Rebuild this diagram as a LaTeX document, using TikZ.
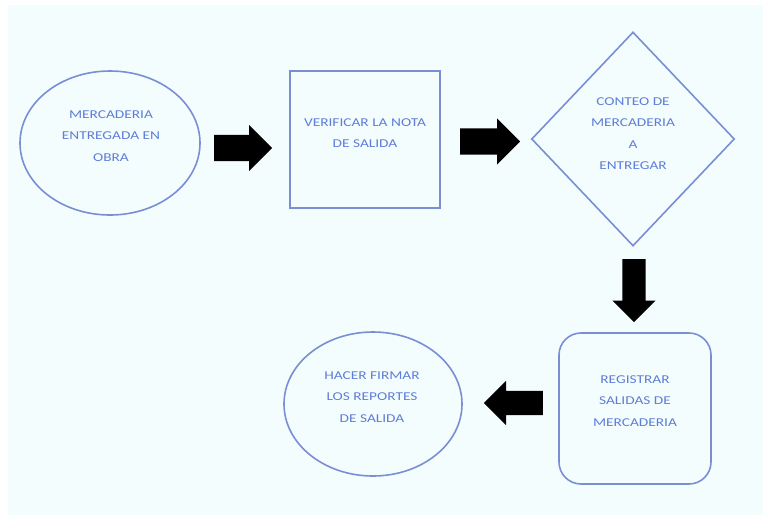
\documentclass[tikz,border=0pt]{standalone}
\usepackage{fontspec}
\setmainfont{Carlito}[FakeStretch=1.28]
\usetikzlibrary{shapes.geometric,shapes.arrows}
\definecolor{bgc}{RGB}{244,253,254}
\definecolor{linec}{RGB}{122,142,212}
\definecolor{txtc}{RGB}{95,125,215}
\tikzset{
  shapeline/.style={draw=linec, line width=1.6pt, inner sep=0pt},
  ell/.style={shapeline, ellipse},
  box/.style={shapeline, rectangle},
  dia/.style={shapeline, diamond},
  rbox/.style={shapeline, rectangle, rounded corners=22pt},
  txt/.style={text=txtc, font=\fontsize{12}{21.5}\selectfont, align=center, inner sep=0pt},
  barrow/.style={single arrow, fill=black, draw=none, inner sep=0pt,
    single arrow head extend=10pt, single arrow head indent=0pt, anchor=tail}
}
\begin{document}
\begin{tikzpicture}[x=1pt,y=-1pt]
\useasboundingbox (0,0) rectangle (763,515);
\fill[white] (0,0) rectangle (763,515);
\fill[bgc] (8,5) rectangle (763,515);

\node[ell, minimum width=180pt, minimum height=144pt] (e1) at (110,143) {};
\node[box, minimum width=150pt, minimum height=137pt] (r1) at (365,139.5) {};
\node[dia, minimum width=203pt, minimum height=214pt] (d1) at (633,139) {};
\node[rbox, minimum width=152pt, minimum height=151pt] (r2) at (635,408.5) {};
\node[ell, minimum width=178pt, minimum height=144pt] (e2) at (373,404) {};

\node[txt] (t1) at (111,136) {MERCADERIA\\ENTREGADA EN\\OBRA};
\node[txt] (t2) at (365,133) {VERIFICAR LA NOTA\\DE SALIDA};
\node[txt] (t3) at (633,133.5) {CONTEO DE\\MERCADERIA\\A\\ENTREGAR};
\node[txt] (t4) at (635,401) {REGISTRAR\\SALIDAS DE\\MERCADERIA};
\node[txt] (t5) at (372,397) {HACER FIRMAR\\LOS REPORTES\\DE SALIDA};

\node[barrow, minimum height=58pt] (a1) at (214,148) {\rule{0pt}{26pt}};
\node[barrow, minimum height=60pt] (a2) at (460,141.5) {\rule{0pt}{26pt}};
\node[barrow, minimum height=63pt, rotate=-90] (a3) at (634,259) {\rule{0pt}{23pt}};
\node[barrow, minimum height=59pt, rotate=180] (a4) at (543,403) {\rule{0pt}{24pt}};
\end{tikzpicture}
\end{document}
